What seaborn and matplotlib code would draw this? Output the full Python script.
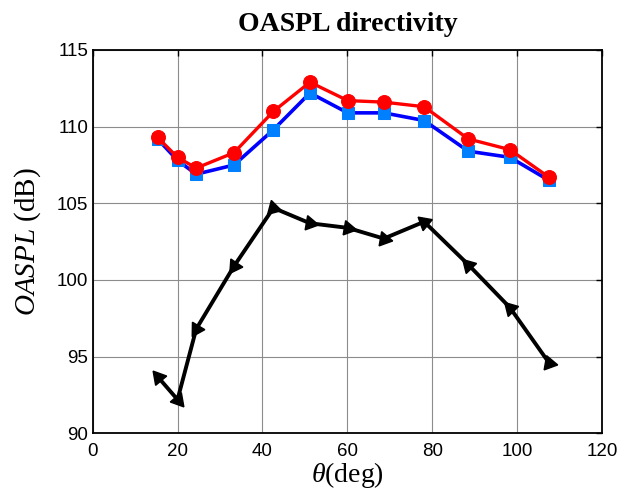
import numpy as np
import pandas as pd
import seaborn as sns
import matplotlib
matplotlib.use("Agg")
import matplotlib.pyplot as plt

# ---- data ----
theta = [15.3, 20.0, 24.4, 33.3, 42.6, 51.2, 60.1, 68.6, 78.1, 88.5, 98.3, 107.5]
red_vals = [109.3, 108.0, 107.3, 108.3, 111.0, 112.9, 111.7, 111.6, 111.3, 109.2, 108.5, 106.7]
blue_vals = [109.2, 107.8, 106.9, 107.5, 109.8, 112.2, 110.9, 110.9, 110.4, 108.4, 108.0, 106.5]
black_vals = [93.7, 92.2, 96.8, 100.9, 104.7, 103.7, 103.4, 102.7, 103.8, 101.0, 98.2, 94.6]
xticks = [0, 20, 40, 60, 80, 100, 120]
yticks = [90, 95, 100, 105, 110, 115]

# marker orientation (style only)
tri_angles = [40, -140, 149, 146, -105, -100, -100, -100, -70, 44, 44, -100]

sns.set_style("white")
plt.rcParams['font.family'] = ['Liberation Sans', 'DejaVu Sans']
plt.rcParams['mathtext.fontset'] = 'custom'
plt.rcParams['mathtext.rm'] = 'Liberation Serif'
plt.rcParams['mathtext.it'] = 'Liberation Serif:italic'
plt.rcParams['text.color'] = 'black'
plt.rcParams['axes.labelcolor'] = 'black'

fig = plt.figure(figsize=(6.2, 4.98), dpi=100)
ax = fig.add_axes([0.1494, 0.1299, 0.9710 - 0.1494, 0.8996 - 0.1299])

df_blue = pd.DataFrame({"theta": theta, "val": blue_vals})
df_red = pd.DataFrame({"theta": theta, "val": red_vals})
df_black = pd.DataFrame({"theta": theta, "val": black_vals})

sns.lineplot(data=df_black, x="theta", y="val", ax=ax, color="black", lw=2.8, zorder=3)
for xv, yv, ang in zip(theta, black_vals, tri_angles):
    ax.plot([xv], [yv], marker=(3, 0, ang), color="black", markersize=12, zorder=4, ls="none")

sns.lineplot(data=df_blue, x="theta", y="val", ax=ax, color="#0000FF", lw=2.6,
             marker="s", markersize=9, markerfacecolor="#0080FF",
             markeredgecolor="#0080FF", zorder=5)
sns.lineplot(data=df_red, x="theta", y="val", ax=ax, color="#FF0000", lw=2.4,
             marker="o", markersize=10, markerfacecolor="#FF0000",
             markeredgecolor="#FF0000", zorder=6)

ax.set_xlim(0, 120)
ax.set_ylim(90, 115)
ax.set_xticks(xticks)
ax.set_yticks(yticks)
ax.tick_params(direction="in", top=True, right=True, length=4, width=1,
               labelsize=13.5, pad=3, colors="black")
ax.tick_params(axis="x", pad=7)
ax.grid(True, color="#8c8c8c", lw=0.8, ls="-")
for s in ax.spines.values():
    s.set_color("black")
    s.set_linewidth(1.3)

ax.set_title("OASPL directivity", fontfamily="Liberation Serif", fontweight="bold",
             fontsize=20, pad=14, color="black")
ax.set_xlabel(r"$\theta\mathrm{(deg)}$", fontsize=20, labelpad=0)
ax.set_ylabel(r"$\mathit{OASPL}\ \mathrm{(dB)}$", fontsize=21, labelpad=10)

fig.savefig("out.png", dpi=100)
